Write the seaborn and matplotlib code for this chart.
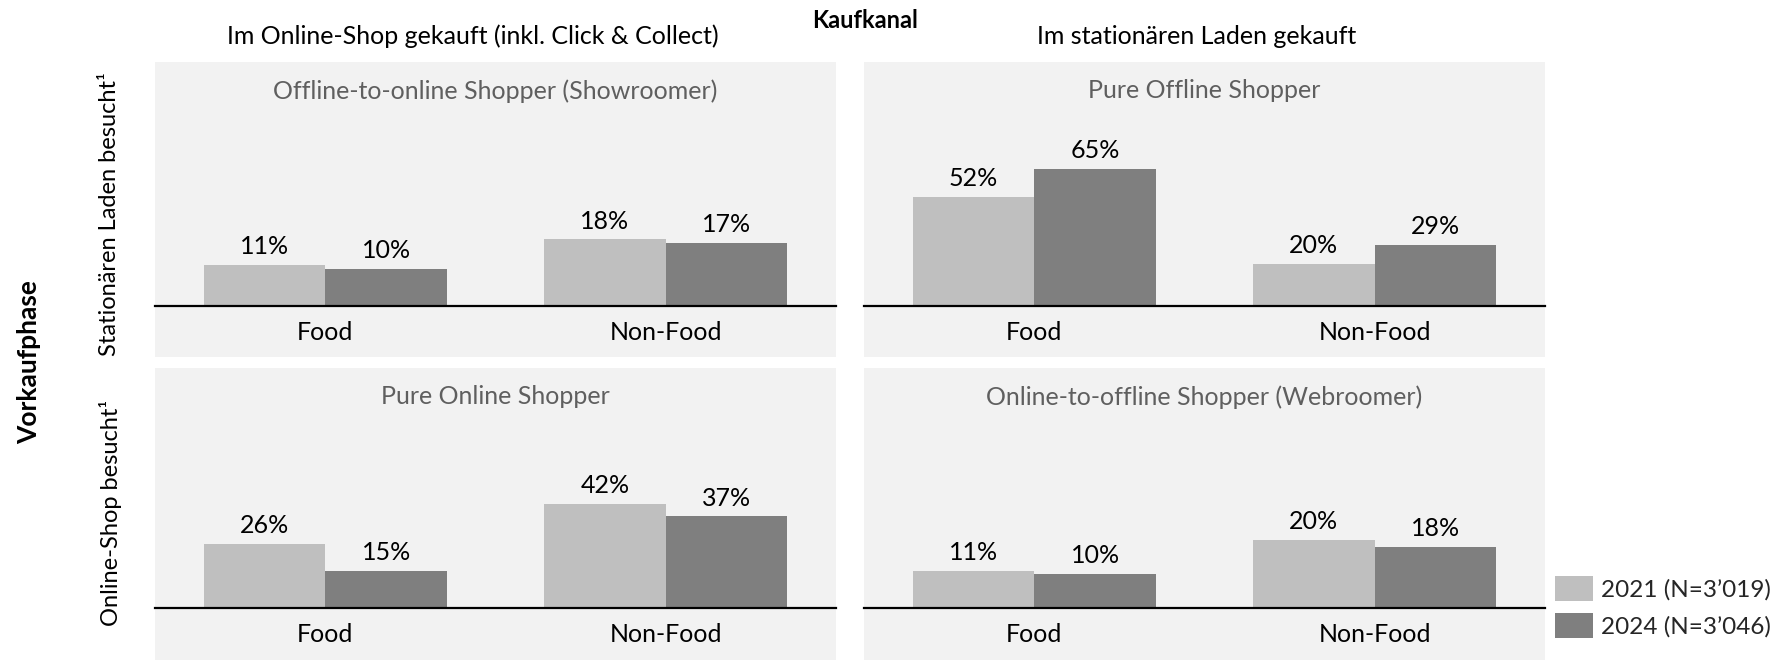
import matplotlib
matplotlib.use("Agg")
import matplotlib.pyplot as plt
from matplotlib.patches import Rectangle
import pandas as pd
import seaborn as sns

# --- data -------------------------------------------------------------
categories = ["Food", "Non-Food"]
years = ["2021 (N=3’019)", "2024 (N=3’046)"]

showroomer_2021 = [11, 18]
showroomer_2024 = [10, 17]
pure_offline_2021 = [52, 20]
pure_offline_2024 = [65, 29]
pure_online_2021 = [26, 42]
pure_online_2024 = [15, 37]
webroomer_2021 = [11, 20]
webroomer_2024 = [10, 18]

panel_titles = [
    "Offline-to-online Shopper (Showroomer)",
    "Pure Offline Shopper",
    "Pure Online Shopper",
    "Online-to-offline Shopper (Webroomer)",
]
column_titles = ["Im Online-Shop gekauft (inkl. Click & Collect)",
                 "Im stationären Laden gekauft"]
row_titles = ["Stationären Laden besucht¹", "Online-Shop besucht¹"]
col_header = "Kaufkanal"
row_header = "Vorkaufphase"

# --- style ------------------------------------------------------------
sns.set_theme(style="white")
plt.rcParams["font.family"] = ["Lato", "DejaVu Sans"]

C21, C24 = "#bfbfbf", "#7f7f7f"
PANEL_BG = "#f2f2f2"
TITLE_GREY = "#5f5f5f"
FS = 18

W, H = 1787, 660
fig = plt.figure(figsize=(W / 100, H / 100), dpi=100)


def fx(px):
    return px / W


def fy(py):
    return 1 - py / H


# panel geometry in pixels: columns (left, right), rows (top, baseline, bottom)
col_x = [(155, 836), (864, 1545)]
row_y = [(62, 306, 357), (368, 608, 660)]

panels = [
    (0, 0, panel_titles[0], showroomer_2021, showroomer_2024, 66),
    (0, 1, panel_titles[1], pure_offline_2021, pure_offline_2024, 116),
    (1, 0, panel_titles[2], pure_online_2021, pure_online_2024, 97),
    (1, 1, panel_titles[3], webroomer_2021, webroomer_2024, 71),
]

legend_handles, legend_labels = None, None

for row, col, title, v21, v24, ymax in panels:
    x0, x1 = col_x[col]
    top, base, bottom = row_y[row]

    # grey panel background, reaching below the baseline for the category labels
    fig.add_artist(Rectangle((fx(x0), fy(bottom)), fx(x1) - fx(x0), fy(top) - fy(bottom),
                             transform=fig.transFigure, facecolor=PANEL_BG,
                             edgecolor="none", zorder=-1))

    ax = fig.add_axes([fx(x0), fy(base), fx(x1) - fx(x0), (base - top) / H])
    ax.set_facecolor("none")

    df = pd.DataFrame({
        "Kategorie": categories * 2,
        "Jahr": [years[0]] * len(categories) + [years[1]] * len(categories),
        "Anteil": list(v21) + list(v24),
    })
    sns.barplot(data=df, x="Kategorie", y="Anteil", hue="Jahr",
                order=categories, hue_order=years, palette=[C21, C24],
                width=0.715, saturation=1, linewidth=0, ax=ax)

    for cont in ax.containers:
        ax.bar_label(cont, labels=[f"{v:.0f}%" for v in cont.datavalues],
                     padding=5, fontsize=FS, color="black")

    leg = ax.get_legend()
    if leg is not None:
        if legend_handles is None:
            legend_handles = leg.legend_handles
            legend_labels = [t.get_text() for t in leg.get_texts()]
        leg.remove()

    ax.set_xlim(-0.5, 1.5)
    ax.set_ylim(0, ymax)
    ax.set_xlabel("")
    ax.set_ylabel("")
    ax.set_yticks([])
    for side in ("top", "right", "left"):
        ax.spines[side].set_visible(False)
    ax.spines["bottom"].set_color("black")
    ax.spines["bottom"].set_linewidth(1.6)
    ax.tick_params(axis="x", length=0, pad=11, labelsize=FS, colors="black")

    ax.text(0.5, 1 - 29 / (base - top), title, transform=ax.transAxes,
            ha="center", va="center", color=TITLE_GREY, fontsize=FS)

# headers
fig.text(fx(865), fy(20), col_header, ha="center", va="center",
         fontsize=17, fontweight="bold", color="black")
fig.text(fx(473), fy(36), column_titles[0], ha="center", va="center",
         fontsize=FS, color="black")
fig.text(fx(1197), fy(37), column_titles[1], ha="center", va="center",
         fontsize=FS, color="black")

fig.text(fx(29), fy(362), row_header, rotation=90, ha="center", va="center",
         fontsize=19, fontweight="bold", color="black")
fig.text(fx(110), fy(214), row_titles[0], rotation=90, ha="center", va="center",
         fontsize=17, color="black")
fig.text(fx(110), fy(513), row_titles[1], rotation=90, ha="center", va="center",
         fontsize=17, color="black")

fig.legend(legend_handles, legend_labels, loc="upper left",
           bbox_to_anchor=(fx(1555), fy(576)), frameon=False,
           borderpad=0, borderaxespad=0, handlelength=1.55, handleheight=1.2,
           handletextpad=0.35, labelspacing=0.5, fontsize=17.5)

fig.savefig("out.png", dpi=100)
